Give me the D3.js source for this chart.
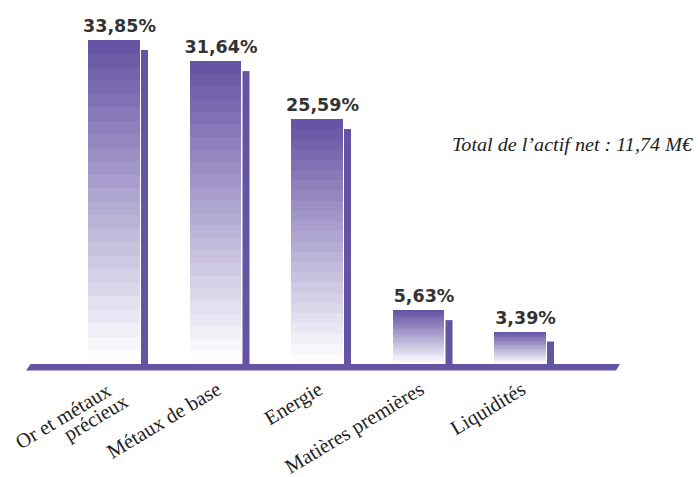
<!DOCTYPE html>
<html>
<head>
<meta charset="utf-8">
<script src="https://cdn.jsdelivr.net/npm/d3@7/dist/d3.min.js"></script>
<style>
  html, body { margin: 0; padding: 0; background: #fff; }
  svg { display: block; }
</style>
</head>
<body>
<svg id="chart" width="698" height="477"></svg>
<script>
// ---- data ----
const categories = ["Or et métaux\nprécieux", "Métaux de base", "Energie", "Matières premières", "Liquidités"];
const values = [33.85, 31.64, 25.59, 5.63, 3.39];
const valueLabels = ["33,85%", "31,64%", "25,59%", "5,63%", "3,39%"];
const totalLabel = "Total de l’actif net : 11,74 M€";

// ---- layout ----
const W = 698, H = 477;
const baseY = 364;
const svg = d3.select("#chart");

const x = d3.scaleBand()
  .domain(d3.range(categories.length))
  .range([88, 554])
  .paddingInner(0.409)
  .paddingOuter(0);

const y = d3.scaleLinear().domain([0, 35]).range([baseY, baseY - 35 * 9.572]);

const purple = "#6553a3";
const topColor = "#6654a4";
const bottomColor = "#fdfdff";
const nBands = 24;
const frontW = 51.5, gap = 1.5;

const data = values.map((v, i) => ({ i, v, cat: categories[i], lab: valueLabels[i] }));

// side bars
svg.append("g").selectAll("rect")
  .data(data)
  .join("rect")
  .attr("x", d => x(d.i) + frontW + gap)
  .attr("y", d => y(d.v) + 10)
  .attr("width", x.bandwidth() - frontW - gap)
  .attr("height", d => baseY + 2 - (y(d.v) + 10))
  .attr("fill", purple);

// front bars: banded gradient
const interp = d3.interpolateRgb(topColor, bottomColor);
const fronts = svg.append("g").selectAll("g")
  .data(data)
  .join("g");
fronts.each(function(d) {
  const top = y(d.v);
  const h = baseY - top;
  const bh = h / nBands;
  d3.select(this).selectAll("rect")
    .data(d3.range(nBands))
    .join("rect")
    .attr("x", x(d.i))
    .attr("y", k => top + k * bh)
    .attr("width", frontW)
    .attr("height", bh + 0.5)
    .attr("fill", k => interp(k / (nBands - 1)))
    .attr("shape-rendering", "crispEdges");
});

// baseline parallelogram
svg.append("path")
  .attr("d", `M30.5,${baseY} L620,${baseY} L616,${baseY + 6.5} L26,${baseY + 6.5} Z`)
  .attr("fill", purple);

// value labels
svg.append("g").selectAll("text")
  .data(data)
  .join("text")
  .attr("x", d => x(d.i) + x.bandwidth() / 2 + 1.5)
  .attr("y", d => y(d.v) - 8)
  .attr("text-anchor", "middle")
  .attr("font-family", "DejaVu Sans, Verdana, sans-serif")
  .attr("font-weight", "bold")
  .attr("font-size", 17.5)
  .attr("fill", "#333")
  .text(d => d.lab);

// category labels
const cl = svg.append("g").selectAll("g")
  .data(data)
  .join("g")
  .attr("transform", d => `translate(${x(d.i) + x.bandwidth() / 2 + 3},393) rotate(-31)`);
cl.each(function(d) {
  const lines = d.cat.split("\n");
  const multi = lines.length > 1;
  const t = d3.select(this).append("text")
    .attr("text-anchor", "end")
    .attr("font-family", "Liberation Serif, Times New Roman, serif")
    .attr("font-size", 20.5)
    .attr("fill", "#222");
  lines.forEach((ln, j) => {
    t.append("tspan")
      .attr("x", multi ? -8 + 9 * j : 0)
      .attr("y", multi ? -3 + 18 * j : 0)
      .text(ln);
  });
});

// total label
svg.append("text")
  .attr("x", 452)
  .attr("y", 151)
  .attr("font-family", "Liberation Serif, Times New Roman, serif")
  .attr("font-style", "italic")
  .attr("font-size", 19)
  .attr("fill", "#222")
  .attr("textLength", 240)
  .attr("lengthAdjust", "spacingAndGlyphs")
  .text(totalLabel);
</script>
</body>
</html>
